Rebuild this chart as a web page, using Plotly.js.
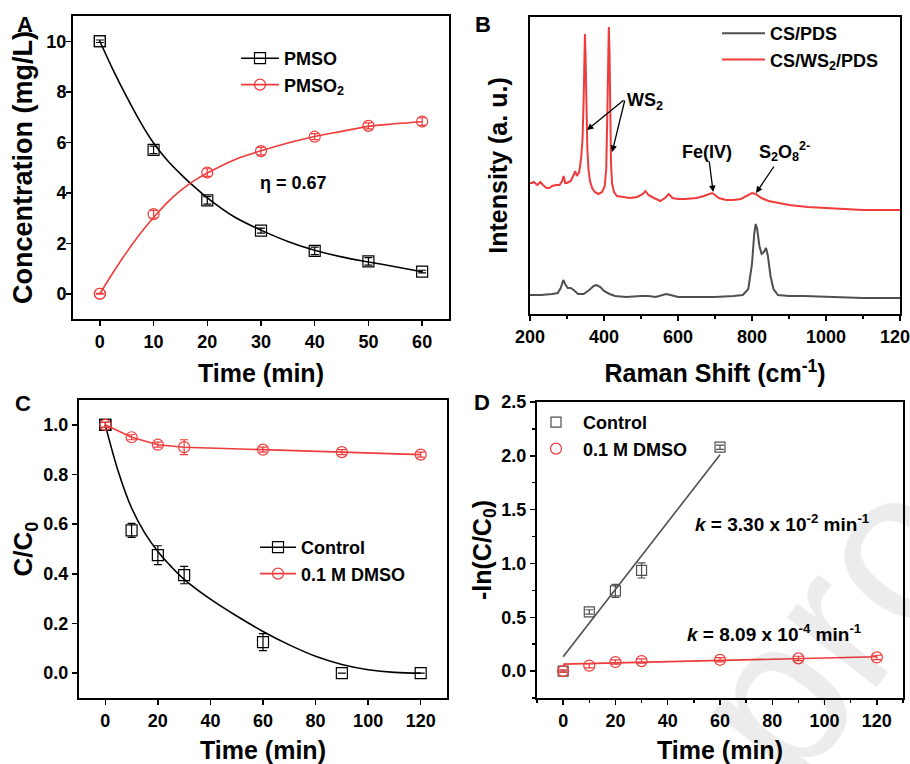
<!DOCTYPE html>
<html>
<head>
<meta charset="utf-8">
<script src="https://cdn.plot.ly/plotly-3.0.1.min.js"></script>
<style>html,body{margin:0;padding:0;background:#fff;}#chart{width:910px;height:764px;}</style>
</head>
<body>
<div id="chart"></div>
<script>
// ---------- Panel A data ----------
const timeA = [0, 10, 20, 30, 40, 50, 60];
const pmso = [10.0, 5.70, 3.70, 2.50, 1.70, 1.28, 0.88];
const pmsoErr = [0.05, 0.15, 0.15, 0.10, 0.15, 0.15, 0.05];
const pmso2 = [0.0, 3.15, 4.80, 5.65, 6.22, 6.65, 6.82];
const pmso2Err = [0.02, 0.15, 0.15, 0.15, 0.12, 0.12, 0.15];
const fitTimeA = [0, 2.5, 5, 7.5, 10, 12.5, 15, 17.5, 20, 25, 30, 35, 40, 45, 50, 55, 60];
const pmsoFit = [10, 8.85, 7.8, 6.82, 5.97, 5.3, 4.75, 4.25, 3.8, 3.05, 2.52, 2.07, 1.72, 1.46, 1.26, 1.07, 0.87];
const pmso2Fit = [0, 0.85, 1.65, 2.38, 3.02, 3.6, 4.08, 4.47, 4.78, 5.3, 5.66, 5.97, 6.23, 6.43, 6.63, 6.73, 6.81];

// ---------- Panel B data (Raman) ----------
const ramanShiftRed = [200,205,210,215,220,228,235,245,252,260,270,280,287,291,295,300,310,318,322,327,333,338,342,345,347,348.5,350,352,355,358,362,368,375,385,395,402,406,409,411,413,415,417,419,422,427,435,450,470,490,505,512,520,535,552,565,575,585,600,620,650,670,685,692,700,710,730,750,770,785,800,810,825,845,870,900,950,1000,1050,1100,1150,1200];
const intensityRed = [131,131,132,130,129,132,129,126,126,128,129,129,133,138,131,131,133,139,143,138,142,155,175,215,260,280,260,200,165,145,133,126,122,120,122,128,145,200,255,287,260,200,150,130,122,118,117,116,117,120,123,119,116,113,116,120,116,115,115,116,118,120,121,119,116,114,114,115,118,121,120,116,113,111,109,107,106,105,104,104,104];
const ramanShiftGray = [200,230,260,275,283,290,295,302,310,318,330,345,360,372,380,390,400,415,430,460,500,520,540,560,568,580,600,650,700,750,775,790,800,806,810,814,820,826,832,838,843,850,858,870,900,940,1000,1100,1200];
const intensityGray = [19,19,20,21,26,34,30,26,26,24,20,20,24,28,29,27,23,20,18,17,18,18,17,19,20,19,17,17,17,18,19,25,50,80,90,85,68,60,62,66,58,38,25,19,18,18,17,16,16];

// ---------- Panel C data ----------
const timeC = [0, 10, 20, 30, 60, 90, 120];
const controlC = [1.0, 0.575, 0.475, 0.395, 0.125, 0.0, 0.0];
const controlCErr = [0.01, 0.028, 0.038, 0.035, 0.034, 0, 0];
const dmsoC = [1.0, 0.95, 0.92, 0.91, 0.90, 0.89, 0.88];
const dmsoCErr = [0.01, 0.01, 0.01, 0.03, 0.01, 0.01, 0.01];
const fitTimeC = [0, 5, 10, 15, 20, 25, 30, 40, 50, 60, 70, 80, 90, 100, 110, 120];
const controlCFit = [1.0, 0.81, 0.665, 0.565, 0.49, 0.43, 0.378, 0.298, 0.23, 0.168, 0.114, 0.068, 0.035, 0.014, 0.003, 0.0];

// ---------- Panel D data ----------
const timeDControl = [0, 10, 20, 30, 60];
const controlD = [0.0, 0.55, 0.745, 0.935, 2.08];
const controlDErr = [0.01, 0.02, 0.06, 0.07, 0.02];
const timeDDmso = [0, 10, 20, 30, 60, 90, 120];
const dmsoD = [0.0, 0.05, 0.084, 0.093, 0.105, 0.118, 0.127];
const dmsoDErr = [0.01, 0.02, 0.02, 0.02, 0.02, 0.02, 0.02];
const controlDFitX = [0, 60];
const controlDFitY = [0.133, 2.01];
const dmsoDFitX = [0, 120];
const dmsoDFitY = [0.065, 0.133];

// ---------- Styling ----------
const FONT = 'Liberation Sans, Arial, Helvetica, sans-serif';
const RED = '#ef3b3b';
const BLACK = '#000000';
const GRAY = '#4f4f4f';
const W = 910, H = 764;
const px = v => v / W;
const py = v => 1 - v / H;
const bold = (size, color) => ({family: FONT, size: size, color: color || '#000', weight: 700});

function firstOnly(n, color) {
  // marker colour visible only on the first point (which coincides with a data point)
  return Array.from({length: n}, (_, i) => i === 0 ? color : 'rgba(0,0,0,0)');
}

function ax(domain, anchor, extra) {
  return Object.assign({
    domain: domain, anchor: anchor, showline: true, linecolor: '#000', linewidth: 2,
    mirror: true, ticks: 'outside', ticklen: 5, tickwidth: 1.5, tickcolor: '#000',
    showgrid: false, zeroline: false, tickfont: bold(18), automargin: false
  }, extra);
}

const traces = [
  // ----- A -----
  {x: fitTimeA, y: pmsoFit, xaxis: 'x', yaxis: 'y', mode: 'lines+markers', name: 'PMSO',
   line: {color: BLACK, width: 1.6, shape: 'spline'},
   marker: {symbol: 'square-open', size: 11, color: firstOnly(fitTimeA.length, BLACK), line: {width: 1.2}},
   legend: 'legend', hoverinfo: 'skip'},
  {x: fitTimeA, y: pmso2Fit, xaxis: 'x', yaxis: 'y', mode: 'lines+markers', name: 'PMSO<sub>2</sub>',
   line: {color: RED, width: 1.6, shape: 'spline'},
   marker: {symbol: 'circle-open', size: 11, color: firstOnly(fitTimeA.length, RED), line: {width: 1.2}},
   legend: 'legend', hoverinfo: 'skip'},
  {x: timeA, y: pmso, xaxis: 'x', yaxis: 'y', mode: 'markers', showlegend: false,
   marker: {symbol: 'square-open', size: 11, color: BLACK, line: {width: 1.2}},
   error_y: {type: 'data', array: pmsoErr, color: BLACK, thickness: 1.2, width: 4}},
  {x: timeA, y: pmso2, xaxis: 'x', yaxis: 'y', mode: 'markers', showlegend: false,
   marker: {symbol: 'circle-open', size: 11, color: RED, line: {width: 1.2}},
   error_y: {type: 'data', array: pmso2Err, color: RED, thickness: 1.2, width: 4}},
  // ----- B -----
  {x: ramanShiftGray, y: intensityGray, xaxis: 'x2', yaxis: 'y2', mode: 'lines', name: 'CS/PDS',
   line: {color: GRAY, width: 2}, legend: 'legend2'},
  {x: ramanShiftRed, y: intensityRed, xaxis: 'x2', yaxis: 'y2', mode: 'lines', name: 'CS/WS<sub>2</sub>/PDS',
   line: {color: RED, width: 2}, legend: 'legend2'},
  // ----- C -----
  {x: fitTimeC, y: controlCFit, xaxis: 'x3', yaxis: 'y3', mode: 'lines+markers', name: 'Control',
   line: {color: BLACK, width: 1.6, shape: 'spline'},
   marker: {symbol: 'square-open', size: 11, color: firstOnly(fitTimeC.length, BLACK), line: {width: 1.2}},
   legend: 'legend3', hoverinfo: 'skip'},
  {x: timeC, y: controlC, xaxis: 'x3', yaxis: 'y3', mode: 'markers', showlegend: false,
   marker: {symbol: 'square-open', size: 11, color: BLACK, line: {width: 1.2}},
   error_y: {type: 'data', array: controlCErr, color: BLACK, thickness: 1.2, width: 4}},
  {x: timeC, y: dmsoC, xaxis: 'x3', yaxis: 'y3', mode: 'lines+markers', name: '0.1 M DMSO',
   line: {color: RED, width: 1.6},
   marker: {symbol: 'circle-open', size: 11, color: RED, line: {width: 1.2}},
   error_y: {type: 'data', array: dmsoCErr, color: RED, thickness: 1.2, width: 4},
   legend: 'legend3'},
  // ----- D -----
  {x: controlDFitX, y: controlDFitY, xaxis: 'x4', yaxis: 'y4', mode: 'lines', showlegend: false,
   line: {color: GRAY, width: 1.6}},
  {x: dmsoDFitX, y: dmsoDFitY, xaxis: 'x4', yaxis: 'y4', mode: 'lines', showlegend: false,
   line: {color: RED, width: 1.6}},
  {x: timeDControl, y: controlD, xaxis: 'x4', yaxis: 'y4', mode: 'markers', name: 'Control',
   marker: {symbol: 'square-open', size: 10, color: GRAY, line: {width: 1.2}},
   error_y: {type: 'data', array: controlDErr, color: GRAY, thickness: 1.2, width: 4},
   legend: 'legend4'},
  {x: timeDDmso, y: dmsoD, xaxis: 'x4', yaxis: 'y4', mode: 'markers', name: '0.1 M DMSO',
   marker: {symbol: 'circle-open', size: 11, color: RED, line: {width: 1.2}},
   error_y: {type: 'data', array: dmsoDErr, color: RED, thickness: 1.2, width: 5},
   legend: 'legend4'}
];

const legendBase = {font: bold(18), bgcolor: 'rgba(0,0,0,0)', borderwidth: 0,
  xanchor: 'left', yanchor: 'top', tracegroupgap: 0};

const letter = (x, y, t) => ({xref: 'paper', yref: 'paper', x: px(x), y: py(y), xanchor: 'center', yanchor: 'middle',
  text: t, showarrow: false, font: bold(22)});
const arrow = (x, y, axv, ayv) => ({xref: 'x2', yref: 'y2', x: x, y: y, axref: 'x2', ayref: 'y2', ax: axv, ay: ayv,
  text: '', showarrow: true, arrowhead: 2, arrowsize: 1, arrowwidth: 1.3, arrowcolor: '#000', standoff: 0, startstandoff: 0});

const layout = {
  width: W, height: H, margin: {l: 0, r: 0, t: 0, b: 0},
  paper_bgcolor: '#fff', plot_bgcolor: '#fff',
  font: {family: FONT, color: '#000'},
  xaxis: ax([px(73), px(449)], 'y', {range: [-5, 65], dtick: 10,
    title: {text: 'Time (min)', font: bold(25), standoff: 14}}),
  yaxis: ax([py(319), py(16)], 'x', {range: [-1, 11], dtick: 2, ticklabelstandoff: -4,
    title: {text: 'Concentration (mg/L)', font: bold(27), standoff: 6}}),
  xaxis2: ax([px(530), px(900)], 'y2', {range: [200, 1200], dtick: 200, ticklabeloverflow: 'allow',
    minor: {ticks: 'outside', dtick: 100, ticklen: 3, tickwidth: 1.5, tickcolor: '#000'},
    title: {text: 'Raman Shift (cm<sup>-1</sup>)', font: bold(25), standoff: 19}}),
  yaxis2: ax([py(314), py(17)], 'x2', {range: [0, 297], showticklabels: false, ticks: '',
    title: {text: 'Intensity (a. u.)', font: bold(25), standoff: 13}}),
  xaxis3: ax([px(79), px(447)], 'y3', {range: [-10, 130], dtick: 20,
    title: {text: 'Time (min)', font: bold(25), standoff: 13}}),
  yaxis3: ax([py(698), py(400)], 'x3', {range: [-0.1, 1.1], dtick: 0.2, tickformat: '.1f',
    title: {text: 'C/C<sub>0</sub>', font: bold(26), standoff: 3}}),
  xaxis4: ax([px(537), px(903)], 'y4', {range: [-10, 130], dtick: 20,
    minor: {ticks: 'outside', dtick: 10, ticklen: 3, tickwidth: 1.5, tickcolor: '#000'},
    title: {text: 'Time (min)', font: bold(25), standoff: 13}}),
  yaxis4: ax([py(698), py(402)], 'x4', {range: [-0.25, 2.5], dtick: 0.5, tickformat: '.1f',
    minor: {ticks: 'outside', dtick: 0.25, ticklen: 3, tickwidth: 1.5, tickcolor: '#000'},
    title: {text: '-ln(C/C<sub>0</sub>)', font: bold(25), standoff: 3}}),
  legend: Object.assign({}, legendBase, {x: px(236), y: py(40), itemwidth: 38}),
  legend2: Object.assign({}, legendBase, {x: px(717), y: py(15), itemwidth: 43}),
  legend3: Object.assign({}, legendBase, {x: px(255), y: py(529), itemwidth: 36}),
  legend4: Object.assign({}, legendBase, {x: px(529), y: py(404), itemwidth: 44}),
  annotations: [
    letter(25, 25, 'A'), letter(483, 25, 'B'), letter(23, 403, 'C'), letter(482, 402, 'D'),
    // A text
    {xref: 'x', yref: 'y', x: 36, y: 4.4, text: 'η = 0.67', showarrow: false, font: bold(18)},
    // B labels
    {xref: 'x2', yref: 'y2', x: 511, y: 212, text: 'WS<sub>2</sub>', showarrow: false, font: bold(18)},
    arrow(354, 184, 457, 215),
    arrow(422, 162, 457, 215),
    {xref: 'x2', yref: 'y2', x: 678, y: 162, text: 'Fe(IV)', showarrow: false, font: bold(18)},
    arrow(695, 122, 684, 154),
    {xref: 'x2', yref: 'y2', x: 889, y: 162, text: 'S<sub>2</sub>O<sub>8</sub><sup>2-</sup>', showarrow: false, font: bold(18)},
    arrow(811, 121, 862, 149),
    // D labels
    {xref: 'x4', yref: 'y4', x: 49.8, y: 1.377, xanchor: 'left', text: '<i>k</i> = 3.30 x 10<sup>-2</sup> min<sup>-1</sup>', showarrow: false, font: bold(19)},
    {xref: 'x4', yref: 'y4', x: 46.8, y: 0.353, xanchor: 'left', text: '<i>k</i> = 8.09 x 10<sup>-4</sup> min<sup>-1</sup>', showarrow: false, font: bold(19)},
    // watermark
    {xref: 'paper', yref: 'paper', x: px(830), y: py(625), xanchor: 'center', yanchor: 'middle',
     text: 'pro', textangle: -52, showarrow: false,
     font: {family: FONT, size: 215, color: 'rgba(0,0,0,0.075)', weight: 400}}
  ]
};

Plotly.newPlot('chart', traces, layout, {staticPlot: true, displayModeBar: false});
</script>
</body>
</html>
